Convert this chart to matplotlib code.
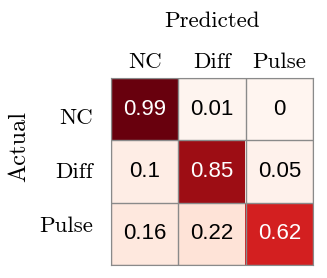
import numpy as np
import matplotlib
matplotlib.use("Agg")
import matplotlib.pyplot as plt
from matplotlib.colors import FuncNorm

classes = ["NC", "Diff", "Pulse"]
cm = np.array([
    [0.99, 0.01, 0.0],
    [0.10, 0.85, 0.05],
    [0.16, 0.22, 0.62],
])
cell_text = [
    ["0.99", "0.01", "0"],
    ["0.1", "0.85", "0.05"],
    ["0.16", "0.22", "0.62"],
]

plt.rcParams["font.family"] = "cmr10"
plt.rcParams["axes.formatter.use_mathtext"] = True

# colour scale is stretched: low values stay pale, high values go dark fast
norm = FuncNorm((lambda x: np.interp(x, [0, 0.3, 0.62, 1], [0, 0.14, 0.72, 1]),
                 lambda y: np.interp(y, [0, 0.14, 0.72, 1], [0, 0.3, 0.62, 1])),
                vmin=0, vmax=1)

fig = plt.figure(figsize=(3.27, 2.78), dpi=100)
ax = fig.add_axes([111 / 327, 1 - 265 / 278, 202 / 327, 187 / 278])
ax.imshow(cm, cmap="Reds", norm=norm, aspect="auto")

for i in range(3):
    for j in range(3):
        col = "white" if cm[i, j] > 0.5 else "black"
        ax.text(j, i, cell_text[i][j], ha="center", va="center",
                fontsize=16, color=col, family="Liberation Sans")

ax.set_xticks(range(3))
ax.set_xticklabels(classes, fontsize=16.5)
# row labels in the original sit a bit tighter than the rows themselves
ax.set_yticks(np.linspace(0.11, 1.85, 3))
ax.set_yticklabels(classes, fontsize=16.5)
ax.xaxis.tick_top()
ax.xaxis.set_label_position("top")
ax.tick_params(axis="x", length=0, pad=4)
ax.tick_params(axis="y", length=0, pad=13)
ax.set_xticks(np.arange(-0.5, 3), minor=True)
ax.set_yticks(np.arange(-0.5, 3), minor=True)
ax.grid(which="minor", color="#8a8a8a", linewidth=1)
ax.tick_params(which="minor", length=0)
for s in ax.spines.values():
    s.set_color("#8a8a8a")
ax.set_xlabel("Predicted", fontsize=16.5, labelpad=18.5)
ax.set_ylabel("Actual", fontsize=17.5)
ax.yaxis.set_label_coords(-0.40, 0.636)

fig.savefig("out.png", dpi=100)
